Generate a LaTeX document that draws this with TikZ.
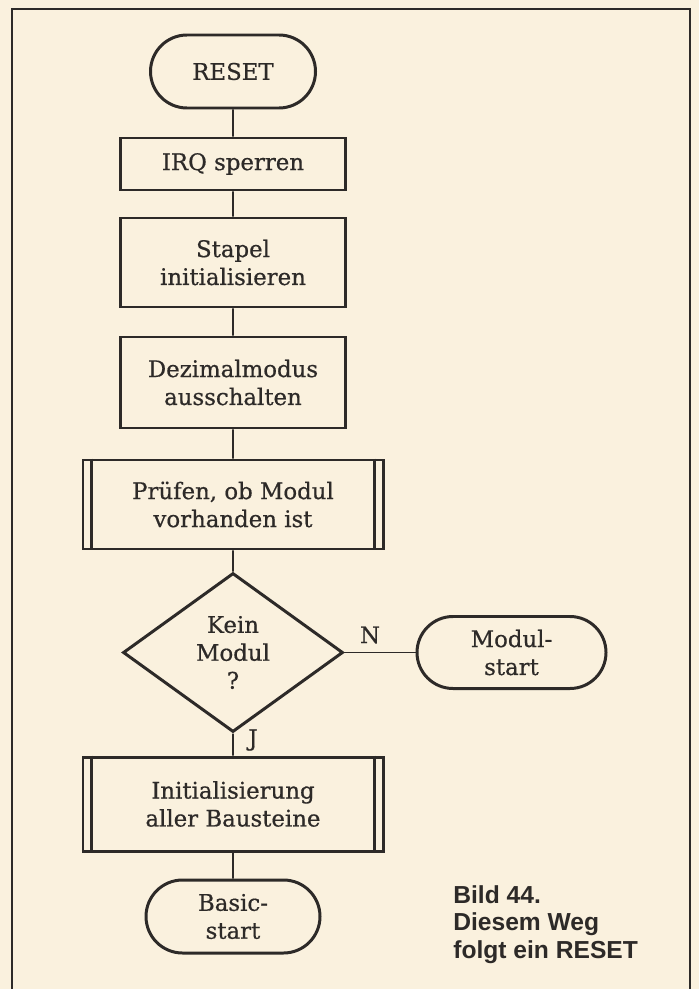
\documentclass[tikz,border=0pt]{standalone}
\usepackage{fontspec}
\setmainfont{DejaVu Serif}[FakeBold=0.6]
\newfontfamily\capfont{Liberation Sans}
\usetikzlibrary{shapes.geometric,shapes.misc}
\definecolor{paper}{RGB}{250,241,222}
\definecolor{ink}{RGB}{45,42,40}
\tikzset{
  flow/.style={draw=ink,line width=1.7pt,text=ink,align=center,inner sep=0pt,
    font=\fontsize{13}{15.9}\selectfont},
  proc/.style={flow,rectangle,minimum width=4.5cm},
  subproc/.style={proc,minimum width=6cm},
  term/.style={flow,rounded rectangle,minimum height=1.46cm},
  test/.style={flow,diamond,aspect=1.38,minimum width=4.4cm,minimum height=3.18cm},
  link/.style={draw=ink,line width=1pt},
  lbl/.style={text=ink,inner sep=0pt,font=\fontsize{13}{15.9}\selectfont}
}
\begin{document}
\begin{tikzpicture}
    \useasboundingbox[fill=paper] (0,0) rectangle (13.98,-19.78);
    \draw[ink,line width=1.3pt] (.24,-19.78)--(.24,-.18)--(13.8,-.18)--(13.8,-19.78);
    \node[term,minimum width=3.3cm] (reset) at (4.66,-1.43) {RESET};
    \node[proc,minimum height=1.04cm] (irq) at (4.66,-3.28) {IRQ sperren};
    \node[proc,minimum height=1.78cm] (stack) at (4.66,-5.25) {Stapel\\initialisieren};
    \node[proc,minimum height=1.82cm] (dec) at (4.66,-7.65) {Dezimalmodus\\ausschalten};
    \node[subproc,minimum height=1.78cm] (check) at (4.66,-10.09) {Prüfen, ob Modul\\vorhanden ist};
    \node[test] (nomod) at (4.66,-13.05) {Kein\\Modul\\?};
    \node[term,minimum width=3.78cm,minimum height=1.44cm] (modstart) at (10.23,-13.05) {Modul-\\start};
    \node[subproc,minimum height=1.88cm] (init) at (4.66,-16.08) {Initialisierung\\aller Bausteine};
    \node[term,minimum width=3.48cm] (basic) at (4.66,-18.33) {Basic-\\start};
    \draw[link] (reset)--(irq) (irq)--(stack) (stack)--(dec) (dec)--(check)
        (check)--(nomod) (nomod)--(init) (init)--(basic);
    \draw[link] (nomod.east)--(modstart.west);
    \draw[link,line width=1.3pt] ([xshift=.2cm]check.north west)--([xshift=.2cm]check.south west)
        ([xshift=-.2cm]check.north east)--([xshift=-.2cm]check.south east);
    \draw[link,line width=1.3pt] ([xshift=.2cm]init.north west)--([xshift=.2cm]init.south west)
        ([xshift=-.2cm]init.north east)--([xshift=-.2cm]init.south east);
    \node[lbl] (n) at (7.4,-12.7) {N};
    \node[lbl] (j) at (5.06,-14.8) {J};
    \node[anchor=north west,inner sep=0pt,align=left,text=ink,
        font=\capfont\bfseries\fontsize{14}{15.6}\selectfont] (cap) at (9.06,-17.7)
        {Bild 44.\\Diesem Weg\\folgt ein RESET};
\end{tikzpicture}
\end{document}
